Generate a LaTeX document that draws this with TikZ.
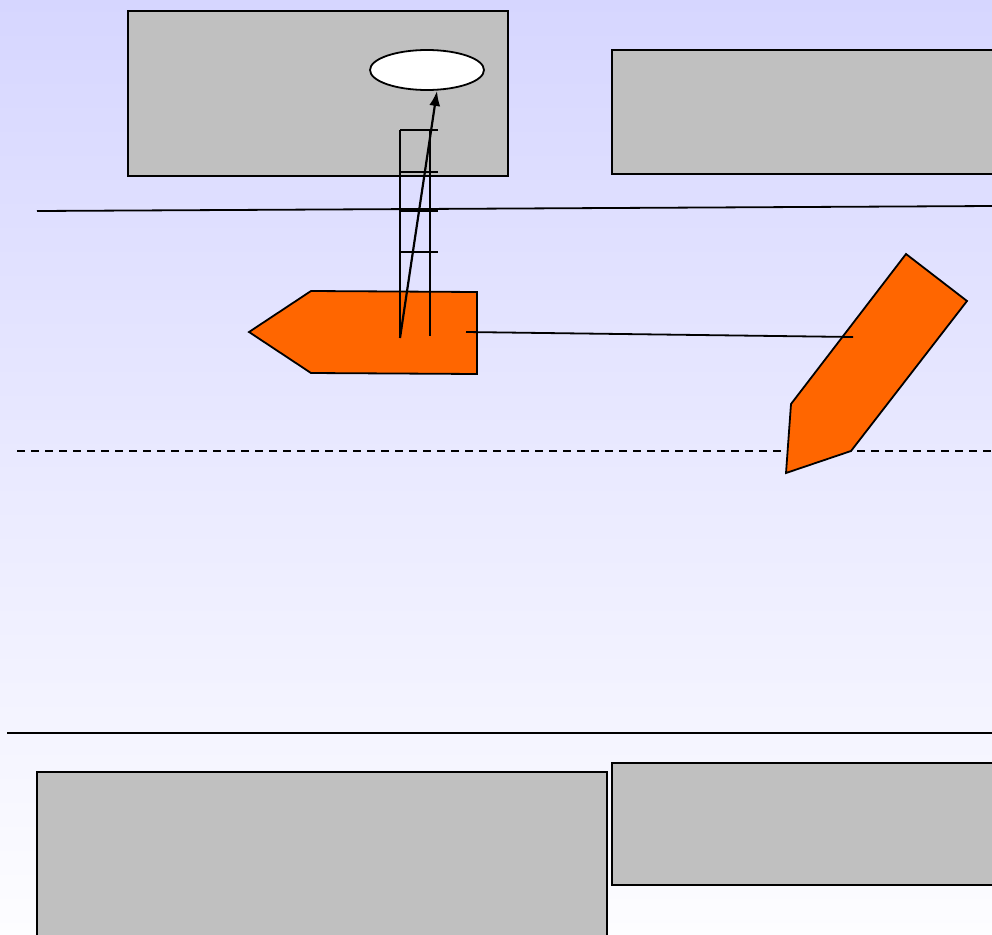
\documentclass[tikz,border=0pt]{standalone}
\usetikzlibrary{shapes.geometric,arrows.meta}
\definecolor{bgtop}{RGB}{214,214,255}
\definecolor{bgbot}{RGB}{253,253,255}
\definecolor{boxgray}{RGB}{192,192,192}
\definecolor{orng}{RGB}{255,102,0}
\tikzset{
  box/.style={draw=black, line width=1.8pt, fill=boxgray},
  orangeshape/.style={draw=black, line width=1.8pt, fill=orng, line join=miter},
  rule/.style={draw=black, line width=1.8pt},
  ladderline/.style={draw=black, line width=1.8pt}
}
\begin{document}
\begin{tikzpicture}[x=1pt,y=-1pt]
\useasboundingbox (0,0) rectangle (992,934);
\shade[top color=bgtop, bottom color=bgbot] (0,0) rectangle (992,934);
% boxes
\draw[box] (128,11) rectangle (508,176);
\node[box, ellipse, minimum width=114pt, minimum height=40pt, inner sep=0pt, fill=white] (ell) at (427,70) {};
\draw[box] (612,50) rectangle (993,174);
\draw[box] (37,772) rectangle (607,936);
\draw[box] (612,763) rectangle (993,885);
% horizontal rules
\coordinate (r1a) at (37,211); \coordinate (r1b) at (993,206);
\draw[rule] (r1a) -- (r1b);
\coordinate (r2a) at (17,451); \coordinate (r2b) at (993,451);
\draw[rule, dash pattern=on 8pt off 6pt] (r2a) -- (r2b);
\coordinate (r3a) at (7,733); \coordinate (r3b) at (993,733);
\draw[rule] (r3a) -- (r3b);
% boat shape
\draw[orangeshape] (249,332) coordinate (bL) -- (311,291) -- (477,292) -- (477,374) -- (311,373) -- cycle;
% pencil shape
\draw[orangeshape] (906,254) -- (967,301) -- (851,451) -- (786,473) -- (791,404) -- cycle;
% connector between shapes
\coordinate (c1) at (466,332); \coordinate (c2) at (853,337);
\draw[rule] (c1) -- (c2);
% ladder
\coordinate (lb) at (400,338); \coordinate (lt) at (400,130);
\coordinate (rb) at (430,336); \coordinate (rt) at (430,130);
\draw[ladderline] (lt) -- (lb);
\draw[ladderline] (rt) -- (rb);
\foreach \yy in {130,172,211,252} {
  \draw[ladderline] (400,\yy) -- (438,\yy);
}
% arrow
\coordinate (tip) at ([xshift=10pt]ell.south);
\draw[line width=2.2pt, -{Latex[length=15pt,width=11pt]}] (lb) -- (tip);
\end{tikzpicture}
\end{document}
